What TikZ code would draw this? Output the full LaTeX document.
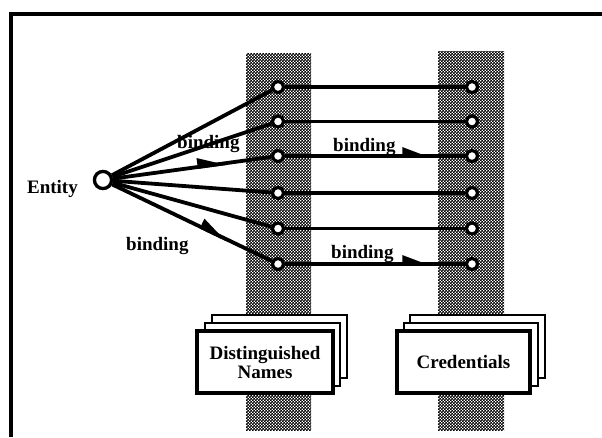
\documentclass[tikz,border=0pt]{standalone}
\usepackage{fontspec}
\setmainfont{Liberation Serif}
\usetikzlibrary{arrows.meta,decorations.markings,patterns.meta}

% fine checkerboard halftone used for the two column strips
\pgfdeclarepattern{
  name=halftone,
  type=uncolored,
  bottom left={\pgfpoint{0pt}{0pt}},
  top right={\pgfpoint{3.2pt}{3.2pt}},
  tile size={\pgfpoint{3.2pt}{3.2pt}},
  code={
    \pgfpathrectangle{\pgfpoint{0pt}{0pt}}{\pgfpoint{1.9pt}{1.9pt}}
    \pgfpathrectangle{\pgfpoint{1.6pt}{1.6pt}}{\pgfpoint{1.9pt}{1.9pt}}
    \pgfusepath{fill}
  }
}

\tikzset{
  strip/.style={pattern=halftone, pattern color=black},
  dot/.style={circle, draw, fill=white, line width=3pt, inner sep=0pt, minimum size=11pt},
  bigdot/.style={circle, draw, fill=white, line width=3.2pt, inner sep=0pt, minimum size=17pt},
  fan/.style={line width=3.8pt},
  link/.style={line width=3.2pt},
  bindarrow/.style={postaction={decorate}, decoration={markings,
      mark=at position #1 with {\arrow{Triangle[harpoon,length=24pt,width=17pt]}}}},
  lbl/.style={font=\fontsize{19}{21}\selectfont\bfseries, inner sep=0pt},
  page/.style={draw, fill=white, line width=2.2pt},
  frontpage/.style={draw, fill=white, line width=3.2pt, inner sep=0pt, align=center,
      font=\fontsize{19}{20}\selectfont\bfseries}
}

\begin{document}
\begin{tikzpicture}[x=1pt, y=-1pt]
\useasboundingbox (0,0) rectangle (602,437);

% outer frame (top and left edges)
\draw[line width=3.8pt] (11,437) -- (11,14) -- (602,14);

% shaded strips
\fill[strip] (246,53) rectangle (311,430);
\fill[strip] (438,51) rectangle (504,430);

% entity and its label
\node[bigdot] (ent) at (103,180) {};
\node[lbl, anchor=base east] (entlbl) at (78,193) {Entity};

% name points and credential points
\foreach \i/\y in {1/87, 2/121.5, 3/156, 4/193, 5/228.5, 6/264} {
  \node[dot] (n\i) at (278,\y) {};
  \node[dot] (c\i) at (472,\y) {};
}

% binding labels
\node[lbl, anchor=base west] (b1) at (177,148) {binding};
\node[lbl, anchor=base west] (b2) at (126,250) {binding};
\node[lbl, anchor=base west] (b3) at (333,151) {binding};
\node[lbl, anchor=base west] (b4) at (331,258) {binding};

% fan of bindings from the entity
\draw[fan] (ent) -- (n1);
\draw[fan] (ent) -- (n2);
\draw[fan, bindarrow=0.72] (ent) -- (n3);
\draw[fan] (ent) -- (n4);
\draw[fan] (ent) -- (n5);
\draw[fan, bindarrow=0.72] (ent) -- (n6);

% bindings from names to credentials
\draw[link] (n1) -- (c1);
\draw[link] (n2) -- (c2);
\draw[link, bindarrow=0.81] (n3) -- (c3);
\draw[link] (n4) -- (c4);
\draw[link] (n5) -- (c5);
\draw[link, bindarrow=0.81] (n6) -- (c6);

% redraw points on top of the lines
\foreach \i/\y in {1/87, 2/121.5, 3/156, 4/193, 5/228.5, 6/264} {
  \node[dot] at (278,\y) {};
  \node[dot] at (472,\y) {};
}
\node[bigdot] at (103,180) {};

% stack of distinguished names
\draw[page] (212,315) rectangle (347,378);
\draw[page] (205,323) rectangle (340,386);
\node[frontpage, minimum width=136pt, minimum height=62pt] (dn) at (265,362)
  {Distinguished\\[-1pt]Names};

% stack of credentials
\draw[page] (410,315) rectangle (545,378);
\draw[page] (404,323) rectangle (538,386);
\node[frontpage, minimum width=133pt, minimum height=62pt] (cr) at (463.5,362)
  {Credentials};
\end{tikzpicture}
\end{document}
